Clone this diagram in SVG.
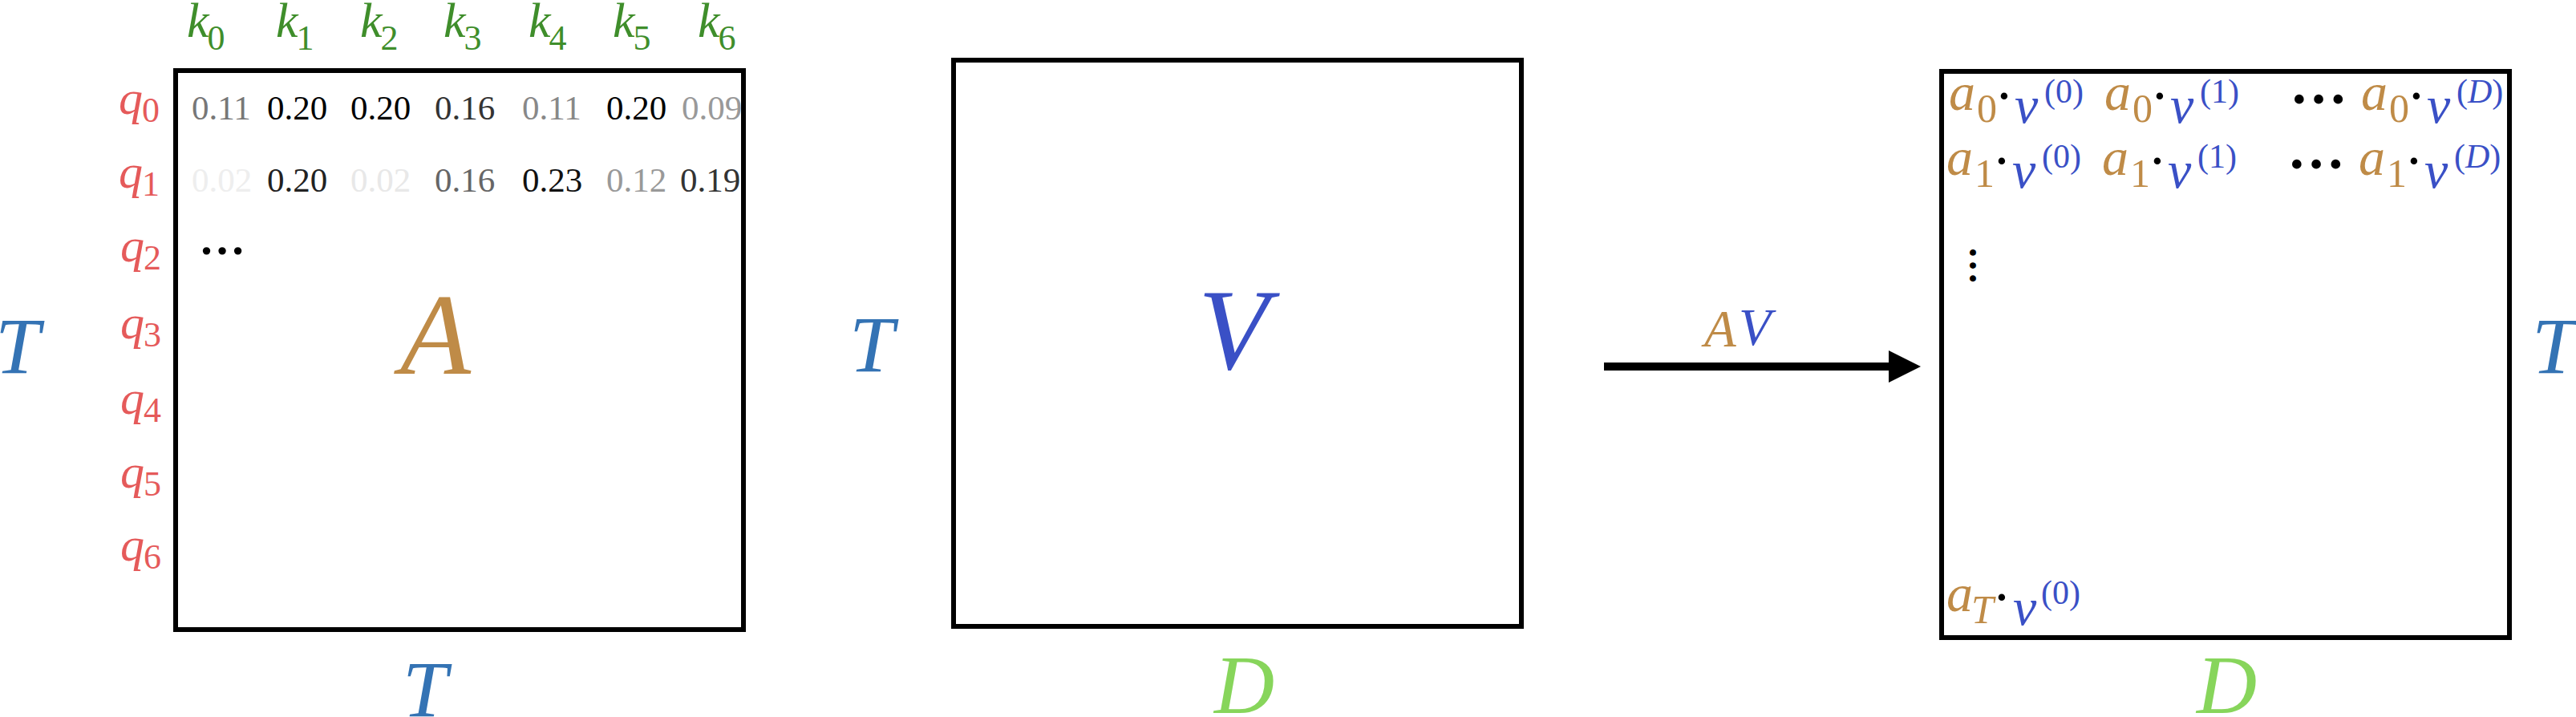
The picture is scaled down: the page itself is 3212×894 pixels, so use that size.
<svg xmlns="http://www.w3.org/2000/svg" width="3212" height="894" viewBox="0 0 3212 894">
<style>
text{font-family:"Liberation Serif","Times New Roman",serif}
.it{font-style:italic}
.box{fill:none;stroke:#000;stroke-width:6}
.k{fill:#3F8E2B;font-style:italic;font-size:62px}
.q{fill:#E55A5A;font-style:italic;font-size:60px}
.sub{font-size:44px;font-style:normal}
.num{font-size:43px}
.Tl{fill:#3473B4;font-style:italic;font-size:100px}
.Dl{fill:#87D55B;font-style:italic;font-size:104px}
.big{font-style:italic;font-size:144px}
.gold{fill:#BF8B47}
.blue{fill:#3A50C6}
.ent{font-size:66px}
.es{font-size:50px}
.sup{font-size:42px;fill:#3A50C6}
.dot{font-size:52px;font-weight:bold;fill:#000}
.ell{font-weight:bold;fill:#000}
</style>
<g id="matrix-A">
<rect class="box" x="219" y="88" width="708" height="697"/>
<g id="k-labels">
<text class="k" x="233" y="46">k<tspan class="sub" dx="-2" dy="16">0</tspan></text>
<text class="k" x="344" y="46">k<tspan class="sub" dx="-2" dy="16">1</tspan></text>
<text class="k" x="449" y="46">k<tspan class="sub" dx="-2" dy="16">2</tspan></text>
<text class="k" x="553" y="46">k<tspan class="sub" dx="-2" dy="16">3</tspan></text>
<text class="k" x="659" y="46">k<tspan class="sub" dx="-2" dy="16">4</tspan></text>
<text class="k" x="764" y="46">k<tspan class="sub" dx="-2" dy="16">5</tspan></text>
<text class="k" x="870" y="46">k<tspan class="sub" dx="-2" dy="16">6</tspan></text>
</g>
<g id="q-labels">
<text class="q" x="148" y="142">q<tspan class="sub" dx="-1" dy="10">0</tspan></text>
<text class="q" x="148" y="234">q<tspan class="sub" dx="-1" dy="10">1</tspan></text>
<text class="q" x="150" y="326">q<tspan class="sub" dx="-1" dy="10">2</tspan></text>
<text class="q" x="150" y="422">q<tspan class="sub" dx="-1" dy="10">3</tspan></text>
<text class="q" x="150" y="516">q<tspan class="sub" dx="-1" dy="10">4</tspan></text>
<text class="q" x="150" y="608">q<tspan class="sub" dx="-1" dy="10">5</tspan></text>
<text class="q" x="150" y="699">q<tspan class="sub" dx="-1" dy="10">6</tspan></text>
</g>
<g id="row0" class="num">
<text x="239" y="149" fill="#777">0.11</text>
<text x="333" y="149" fill="#000">0.20</text>
<text x="437" y="149" fill="#000">0.20</text>
<text x="542" y="149" fill="#333">0.16</text>
<text x="651" y="149" fill="#888">0.11</text>
<text x="756" y="149" fill="#000">0.20</text>
<text x="850" y="149" fill="#999">0.09</text>
</g>
<g id="row1" class="num">
<text x="239" y="239" fill="#eee">0.02</text>
<text x="333" y="239" fill="#222">0.20</text>
<text x="437" y="239" fill="#e8e8e8">0.02</text>
<text x="542" y="239" fill="#666">0.16</text>
<text x="651" y="239" fill="#111">0.23</text>
<text x="756" y="239" fill="#999">0.12</text>
<text x="848" y="239" fill="#333">0.19</text>
</g>
<text class="ell" x="248" y="317" font-size="58">…</text>
<text class="big gold" x="543" y="466" text-anchor="middle">A</text>
<text class="Tl" x="-6" y="465">T</text>
<text class="Tl" x="502" y="893">T</text>
</g>
<g id="matrix-V">
<rect class="box" x="1189" y="75" width="708" height="706"/>
<text class="big blue" x="1538" y="460" text-anchor="middle">V</text>
<text class="Tl" x="1059" y="463">T</text>
<text class="Dl" x="1514" y="889">D</text>
</g>
<g id="matrix-AV">
<rect class="box" x="2421" y="89" width="708" height="706"/>
<g id="row-a0">
<text class="ent gold it" x="2430" y="137">a</text><text class="es gold" x="2465" y="152">0</text>
<text class="dot" x="2499" y="137" text-anchor="middle">·</text>
<text class="ent blue it" x="2512" y="153">v</text><text class="sup" x="2549" y="128">(0)</text>
<text class="ent gold it" x="2624" y="137">a</text><text class="es gold" x="2659" y="152">0</text>
<text class="dot" x="2693" y="137" text-anchor="middle">·</text>
<text class="ent blue it" x="2706" y="153">v</text><text class="sup" x="2743" y="128">(1)</text>
<text class="ell" x="2855" y="129" font-size="72">…</text>
<text class="ent gold it" x="2944" y="137">a</text><text class="es gold" x="2979" y="152">0</text>
<text class="dot" x="3013" y="137" text-anchor="middle">·</text>
<text class="ent blue it" x="3026" y="153">v</text><text class="sup" x="3063" y="128">(<tspan font-style="italic">D</tspan>)</text>
</g>
<g id="row-a1">
<text class="ent gold it" x="2427" y="218">a</text><text class="es gold" x="2462" y="233">1</text>
<text class="dot" x="2496" y="218" text-anchor="middle">·</text>
<text class="ent blue it" x="2509" y="234">v</text><text class="sup" x="2546" y="209">(0)</text>
<text class="ent gold it" x="2621" y="218">a</text><text class="es gold" x="2656" y="233">1</text>
<text class="dot" x="2690" y="218" text-anchor="middle">·</text>
<text class="ent blue it" x="2703" y="234">v</text><text class="sup" x="2740" y="209">(1)</text>
<text class="ell" x="2852" y="210" font-size="72">…</text>
<text class="ent gold it" x="2941" y="218">a</text><text class="es gold" x="2976" y="233">1</text>
<text class="dot" x="3010" y="218" text-anchor="middle">·</text>
<text class="ent blue it" x="3023" y="234">v</text><text class="sup" x="3060" y="209">(<tspan font-style="italic">D</tspan>)</text>
</g>
<text class="ell" font-size="48" transform="translate(2456,307) rotate(90)">…</text>
<g id="row-aT">
<text class="ent gold it" x="2427" y="762">a</text><text class="es gold it" x="2458" y="777">T</text>
<text class="dot" x="2496" y="762" text-anchor="middle">·</text>
<text class="ent blue it" x="2510" y="779">v</text><text class="sup" x="2545" y="753">(0)</text>
</g>
<text class="Tl" x="3157" y="465">T</text>
<text class="Dl" x="2739" y="889">D</text>
</g>
<g id="connectors">
<line x1="2000" y1="457" x2="2358" y2="457" stroke="#000" stroke-width="10"/>
<polygon points="2355,437 2395,457 2355,477" fill="#000"/>
<text class="gold it" font-size="65" x="2125" y="432">A</text>
<text class="blue it" font-size="66" x="2168" y="430">V</text>
</g>
</svg>
